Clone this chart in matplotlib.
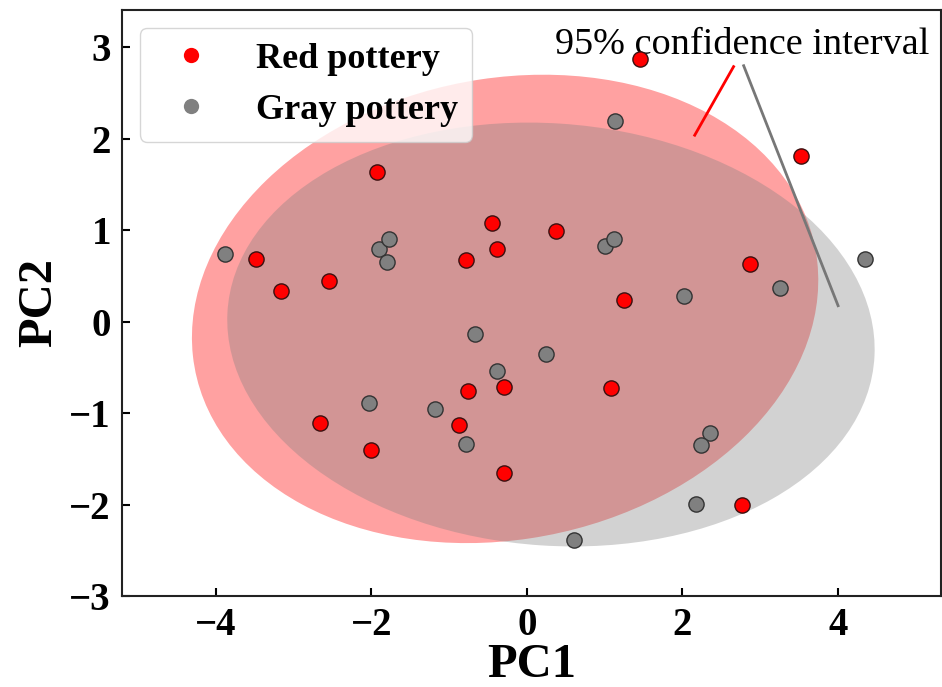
import matplotlib
matplotlib.use("Agg")
import matplotlib.pyplot as plt
from matplotlib.patches import Ellipse
from matplotlib.lines import Line2D

plt.rcParams['font.family'] = ['Liberation Serif', 'DejaVu Serif']

# ---- data ----
red_x = [1.46, 3.53, -1.93, -0.45, -0.39, -0.78, 0.38, 2.87, 1.25, -3.49,
         -3.17, -2.55, -2.66, -2.00, -0.76, -0.87, -0.30, 1.08, -0.30, 2.77]
red_y = [2.87, 1.81, 1.64, 1.08, 0.80, 0.67, 0.99, 0.63, 0.24, 0.69,
         0.34, 0.44, -1.11, -1.40, -0.76, -1.13, -0.71, -0.73, -1.65, -2.01]
gray_x = [-3.88, -1.90, -1.77, -1.80, -0.67, 1.13, 1.00, 1.12, 4.35, 3.26,
          2.02, -2.03, -1.18, -0.78, 0.25, -0.39, 2.36, 2.24, 2.18, 0.61]
gray_y = [0.74, 0.79, 0.91, 0.65, -0.13, 2.20, 0.83, 0.90, 0.69, 0.37,
          0.28, -0.89, -0.95, -1.34, -0.35, -0.54, -1.22, -1.35, -1.99, -2.39]

# 95% confidence ellipses: center, width, height, angle
red_ell_center = (-0.28, 0.14)
red_ell_size = (8.10, 5.06)
red_ell_angle = 7.3
gray_ell_center = (0.31, -0.14)
gray_ell_size = (8.34, 4.62)
gray_ell_angle = -3.2

# annotation pointer lines
red_line_x = [2.66, 2.16]
red_line_y = [2.79, 2.04]
gray_line_x = [2.79, 4.005]
gray_line_y = [2.80, 0.175]

labels = ["Red pottery", "Gray pottery"]
xticks = [-4, -2, 0, 2, 4]
yticks = [-3, -2, -1, 0, 1, 2, 3]

# ---- plot ----
fig = plt.figure(figsize=(9.42, 6.87), dpi=100)
ax = fig.add_axes([0.1295, 0.1325, 0.8695, 0.853])

ax.add_patch(Ellipse(red_ell_center, *red_ell_size, angle=red_ell_angle,
                     facecolor='red', alpha=0.37, edgecolor='none', zorder=1))
ax.add_patch(Ellipse(gray_ell_center, *gray_ell_size, angle=gray_ell_angle,
                     facecolor='#808080', alpha=0.35, edgecolor='none', zorder=2))

ax.scatter(red_x, red_y, s=120, c='red', edgecolors='#3a1010', linewidths=1.0, zorder=4)
ax.scatter(gray_x, gray_y, s=120, c='#808080', edgecolors='#333333', linewidths=1.0, zorder=4)

ax.plot(red_line_x, red_line_y, color='red', lw=2.0, zorder=3)
ax.plot(gray_line_x, gray_line_y, color='#777777', lw=2.0, zorder=3)
ax.text(2.77, 2.93, "95% confidence interval", ha='center', va='baseline',
        fontsize=27.5, zorder=3)

ax.set_xlim(-5.21, 5.33)
ax.set_ylim(-3.0, 3.41)
ax.set_xticks(xticks)
ax.set_yticks(yticks)
ax.tick_params(direction='in', length=6, width=1.5, labelsize=28, pad=8)
for lab in ax.get_xticklabels() + ax.get_yticklabels():
    lab.set_fontweight('bold')
for sp in ax.spines.values():
    sp.set_linewidth(1.5)
    sp.set_color('#222222')

ax.set_xlabel("PC1", fontsize=35, fontweight='bold', labelpad=-1)
ax.set_ylabel("PC2", fontsize=35, fontweight='bold', labelpad=6)

handles = [Line2D([], [], marker='o', ls='none', color='red', markersize=11, markeredgewidth=0),
           Line2D([], [], marker='o', ls='none', color='#808080', markersize=11, markeredgewidth=0)]
ax.legend(handles, labels, loc='upper left', prop={'size': 26, 'weight': 'bold'})

fig.savefig("out.png", dpi=100)
